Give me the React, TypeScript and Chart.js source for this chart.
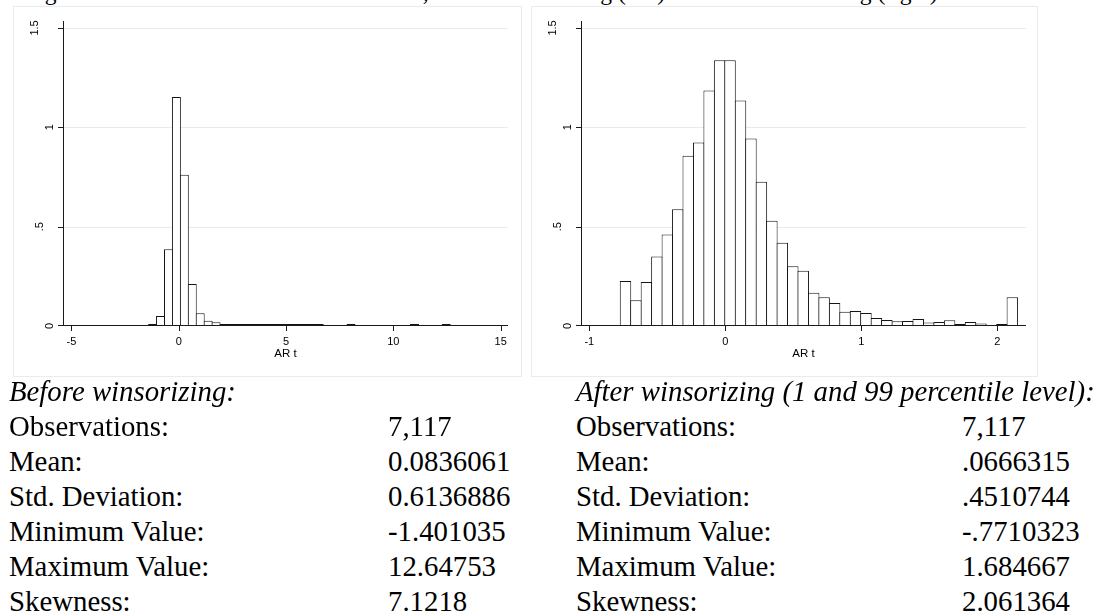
import React, { useEffect, useRef } from "react";
import { Chart, registerables } from "chart.js";

Chart.register(...registerables);

// ---- Histogram data (density per bin, 38 equal-width bins each) ----
const LEFT_BIN_START = -1.401035;
const LEFT_BIN_END = 12.64753;
const LEFT_DENSITY = [
  0.007, 0.05, 0.386, 1.152, 0.761, 0.212, 0.064, 0.027, 0.019, 0.008,
  0.006, 0.005, 0.003, 0.003, 0.002, 0.002, 0.002, 0.001, 0.001, 0.001,
  0.001, 0.001, 0, 0, 0, 0.001, 0, 0, 0, 0,
  0, 0, 0, 0.001, 0, 0, 0, 0.001,
];
const LEFT_X_TICKS = [-5, 0, 5, 10, 15];
const LEFT_X_MIN = -5.39;
const LEFT_X_MAX = 15.34;

const RIGHT_BIN_START = -0.7722;
const RIGHT_BIN_END = 2.149;
const RIGHT_DENSITY = [
  0.227, 0.13, 0.222, 0.35, 0.461, 0.588, 0.857, 0.924, 1.185, 1.338,
  1.338, 1.135, 0.944, 0.726, 0.53, 0.419, 0.301, 0.278, 0.167, 0.145,
  0.116, 0.072, 0.076, 0.066, 0.04, 0.03, 0.024, 0.025, 0.035, 0.017,
  0.02, 0.029, 0.01, 0.02, 0.013, 0, 0.005, 0.145,
];
const RIGHT_X_TICKS = [-1, 0, 1, 2];
const RIGHT_X_MIN = -1.061;
const RIGHT_X_MAX = 2.211;

const Y_TICKS = [0, 0.5, 1, 1.5];
const Y_TICK_LABELS = ["0", ".5", "1", "1.5"];
const Y_MAX = 1.535;
const X_TITLE = "AR t";

// ---- Summary statistics ----
const CAPTION =
  "Figure 1: Distribution of the AR t variable, before winsorizing (left) and after winsorizing (right)";
const BEFORE_HEADING = "Before winsorizing:";
const AFTER_HEADING = "After winsorizing (1 and 99 percentile level):";
const STAT_LABELS = [
  "Observations:",
  "Mean:",
  "Std. Deviation:",
  "Minimum Value:",
  "Maximum Value:",
  "Skewness:",
];
const BEFORE_VALUES = ["7,117", "0.0836061", "0.6136886", "-1.401035", "12.64753", "7.1218"];
const AFTER_VALUES = ["7,117", ".0666315", ".4510744", "-.7710323", "1.684667", "2.061364"];

// ---- Styling ----
const GRID_COLOR = "#e4ecef";
const AXIS_COLOR = "#1a1a1a";
const FRAME_COLOR = "#e6edf0";
const AXIS_FONT = '11px "Liberation Sans", Arial, sans-serif';
const TITLE_FONT = '11.5px "Liberation Sans", Arial, sans-serif';
const SERIF = '"Liberation Serif", "Times New Roman", serif';

// distance from the y axis to the centre of a rotated tick label
const yLabelOffset = (label: string) => (label.length === 1 ? 13 : label.length === 2 ? 23 : 28.5);

type HistProps = {
  density: number[];
  binStart: number;
  binEnd: number;
  xTicks: number[];
  xMin: number;
  xMax: number;
  width: number;
  height: number;
  pad: { left: number; right: number; top: number; bottom: number };
};

function Histogram(props: HistProps) {
  const ref = useRef<HTMLCanvasElement>(null);

  useEffect(() => {
    const { density, binStart, binEnd, xTicks, xMin, xMax, width, pad } = props;
    const binWidth = (binEnd - binStart) / density.length;
    const plotW = width - pad.left - pad.right;
    const binPx = (binWidth * plotW) / (xMax - xMin);
    const points = density.map((d, i) => ({
      x: binStart + (i + 0.5) * binWidth,
      y: d > 0 ? d : null,
    }));

    const axesPlugin = {
      id: "statAxes",
      beforeDatasetsDraw(chart: any) {
        const { ctx, chartArea: a, scales } = chart;
        const y = scales.y;
        ctx.save();
        ctx.strokeStyle = GRID_COLOR;
        ctx.lineWidth = 1;
        for (const v of Y_TICKS) {
          if (v === 0) continue;
          const py = Math.round(y.getPixelForValue(v)) + 0.5;
          ctx.beginPath();
          ctx.moveTo(a.left, py);
          ctx.lineTo(a.right, py);
          ctx.stroke();
        }
        ctx.restore();
      },
      afterDatasetsDraw(chart: any) {
        const { ctx, chartArea: a, scales } = chart;
        const x = scales.x;
        const y = scales.y;
        ctx.save();
        ctx.strokeStyle = AXIS_COLOR;
        ctx.lineWidth = 1;
        ctx.beginPath();
        ctx.moveTo(a.left + 0.5, a.top);
        ctx.lineTo(a.left + 0.5, a.bottom);
        ctx.moveTo(a.left, a.bottom - 0.5);
        ctx.lineTo(a.right, a.bottom - 0.5);
        for (const v of xTicks) {
          const px = Math.round(x.getPixelForValue(v)) + 0.5;
          ctx.moveTo(px, a.bottom);
          ctx.lineTo(px, a.bottom + 5);
        }
        for (const v of Y_TICKS) {
          const py = v === 0 ? a.bottom - 0.5 : Math.round(y.getPixelForValue(v)) + 0.5;
          ctx.moveTo(a.left, py);
          ctx.lineTo(a.left - 5, py);
        }
        ctx.stroke();

        ctx.fillStyle = "#000";
        ctx.font = AXIS_FONT;
        ctx.textAlign = "center";
        ctx.textBaseline = "alphabetic";
        for (const v of xTicks) {
          ctx.fillText(String(v), x.getPixelForValue(v), a.bottom + 19);
        }
        ctx.font = TITLE_FONT;
        ctx.fillText(X_TITLE, (a.left + a.right) / 2, a.bottom + 31);

        ctx.font = AXIS_FONT;
        ctx.textBaseline = "middle";
        Y_TICKS.forEach((v, i) => {
          const label = Y_TICK_LABELS[i];
          ctx.save();
          ctx.translate(a.left - yLabelOffset(label), y.getPixelForValue(v));
          ctx.rotate(-Math.PI / 2);
          ctx.fillText(label, 0, 0);
          ctx.restore();
        });
        ctx.restore();
      },
    };

    const chart = new Chart(ref.current as HTMLCanvasElement, {
      type: "bar",
      data: {
        datasets: [
          {
            data: points as any,
            backgroundColor: "#ffffff",
            borderColor: "#141414",
            borderWidth: 1,
            borderSkipped: false,
            inflateAmount: 0,
            barPercentage: (binPx + 1) / binPx,
            categoryPercentage: 1,
            minBarLength: 2,
          } as any,
        ],
      },
      options: {
        responsive: false,
        animation: false,
        events: [],
        layout: { padding: pad },
        plugins: { legend: { display: false }, tooltip: { enabled: false } },
        scales: {
          x: {
            type: "linear",
            display: false,
            min: xMin,
            max: xMax,
            offset: false,
            afterBuildTicks: (s: any) => {
              s.ticks = xTicks.map((v) => ({ value: v }));
            },
          },
          y: {
            type: "linear",
            display: false,
            min: 0,
            max: Y_MAX,
            afterBuildTicks: (s: any) => {
              s.ticks = Y_TICKS.map((v) => ({ value: v }));
            },
          },
        },
      } as any,
      plugins: [axesPlugin],
    });
    return () => chart.destroy();
  }, []);

  return (
    <canvas ref={ref} width={props.width} height={props.height} style={{ display: "block" }} />
  );
}

function Panel(props: { left: number; children: React.ReactNode; width: number }) {
  return (
    <div
      style={{
        position: "absolute",
        left: props.left,
        top: 6,
        width: props.width,
        height: 371,
        boxSizing: "border-box",
        border: `1px solid ${FRAME_COLOR}`,
        overflow: "hidden",
      }}
    >
      <div style={{ position: "absolute", left: -1, top: -1 }}>{props.children}</div>
    </div>
  );
}

function StatBlock(props: {
  left: number;
  valueLeft: number;
  heading: string;
  values: string[];
}) {
  const top0 = 374;
  const pitch = 35;
  const base: React.CSSProperties = {
    position: "absolute",
    fontFamily: SERIF,
    fontSize: 28.8,
    lineHeight: `${pitch}px`,
    color: "#000",
    whiteSpace: "nowrap",
  };
  return (
    <>
      <div style={{ ...base, left: props.left, top: top0, fontStyle: "italic" }}>{props.heading}</div>
      {STAT_LABELS.map((label, i) => (
        <React.Fragment key={label}>
          <div style={{ ...base, left: props.left, top: top0 + (i + 1) * pitch }}>{label}</div>
          <div style={{ ...base, left: props.valueLeft, top: top0 + (i + 1) * pitch }}>
            {props.values[i]}
          </div>
        </React.Fragment>
      ))}
    </>
  );
}

export default function App() {
  return (
    <div
      style={{
        position: "absolute",
        left: 0,
        top: 0,
        width: 1106,
        height: 614,
        overflow: "hidden",
        background: "#fff",
      }}
    >
      <div
        style={{
          position: "absolute",
          left: 25,
          top: -20,
          fontFamily: SERIF,
          fontSize: 23.6,
          lineHeight: "24px",
          whiteSpace: "nowrap",
          color: "#000",
        }}
      >
        {CAPTION}
      </div>

      <Panel left={13} width={509}>
        <Histogram
          density={LEFT_DENSITY}
          binStart={LEFT_BIN_START}
          binEnd={LEFT_BIN_END}
          xTicks={LEFT_X_TICKS}
          xMin={LEFT_X_MIN}
          xMax={LEFT_X_MAX}
          width={509}
          height={371}
          pad={{ left: 50, right: 14, top: 15, bottom: 51 }}
        />
      </Panel>

      <Panel left={531} width={507}>
        <Histogram
          density={RIGHT_DENSITY}
          binStart={RIGHT_BIN_START}
          binEnd={RIGHT_BIN_END}
          xTicks={RIGHT_X_TICKS}
          xMin={RIGHT_X_MIN}
          xMax={RIGHT_X_MAX}
          width={507}
          height={371}
          pad={{ left: 50, right: 12, top: 15, bottom: 51 }}
        />
      </Panel>

      <StatBlock left={9} valueLeft={388} heading={BEFORE_HEADING} values={BEFORE_VALUES} />
      <StatBlock left={576} valueLeft={962} heading={AFTER_HEADING} values={AFTER_VALUES} />
    </div>
  );
}
